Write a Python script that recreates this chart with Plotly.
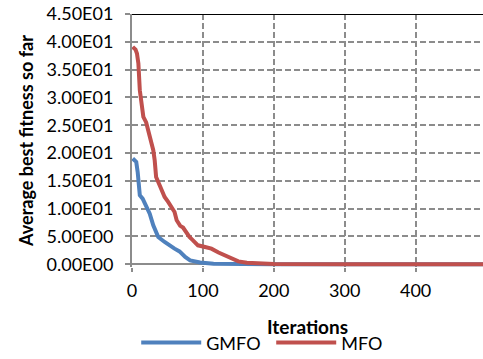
import plotly.graph_objects as go

# ---- data ----
gmfo_iter = [1, 6, 8, 10, 11, 15, 20, 25, 30, 37, 46, 55, 60, 67, 75, 82, 96, 115, 140, 200, 300, 400, 495]
gmfo_val = [19.0, 18.4, 16.6, 13.5, 12.4, 11.8, 10.6, 9.1, 7.0, 4.9, 4.0, 3.1, 2.8, 2.3, 1.3, 0.7, 0.3, 0.1, 0.03, 0.0, 0.0, 0.0, 0.0]

mfo_iter = [1, 5, 7, 9, 11, 13, 16, 20, 23, 27, 30, 32, 34, 39, 46, 51, 55, 60, 63, 68, 72, 77, 81, 86, 93,
            103, 112, 122, 131, 140, 150, 162, 180, 200, 300, 400, 495]
mfo_val = [39.1, 38.6, 37.9, 36.1, 31.3, 29.0, 26.5, 25.5, 24.1, 22.3, 20.5, 18.7, 15.7, 14.2, 12.1, 11.2, 10.3,
           9.4, 7.9, 6.9, 6.6, 5.5, 4.9, 4.3, 3.4, 3.1, 2.8, 2.1, 1.6, 1.0, 0.5, 0.25, 0.1, 0.03, 0.0, 0.0, 0.0]

y_tickvals = [0, 5, 10, 15, 20, 25, 30, 35, 40, 45]
y_ticktext = ["0.00E00", "5.00E00", "1.00E01", "1.50E01", "2.00E01", "2.50E01",
              "3.00E01", "3.50E01", "4.00E01", "4.50E01"]
x_tickvals = [0, 100, 200, 300, 400]

FONT = "Lato"
GRID = "#8c8c8c"

fig = go.Figure()
fig.add_trace(go.Scatter(x=gmfo_iter, y=gmfo_val, mode="lines", name="GMFO",
                         line=dict(color="#4F81BD", width=4)))
fig.add_trace(go.Scatter(x=mfo_iter, y=mfo_val, mode="lines", name="MFO",
                         line=dict(color="#C0504D", width=4)))

fig.update_layout(
    width=483, height=359,
    margin=dict(l=132, r=0, t=14, b=92, autoexpand=False),
    paper_bgcolor="white", plot_bgcolor="white",
    font=dict(family=FONT, size=18, color="black"),
    showlegend=True,
    legend=dict(orientation="h", x=0.012, xanchor="left", y=-0.30, yanchor="middle",
                font=dict(size=18), bgcolor="rgba(0,0,0,0)", itemwidth=60,
                entrywidth=60, entrywidthmode="pixels"),
    xaxis=dict(range=[0, 495], tickvals=x_tickvals, showgrid=True, gridcolor=GRID, gridwidth=1.5,
               griddash="6px,3px", showline=False, zeroline=False, automargin=False,
               ticks="outside", ticklen=4, tickwidth=2, tickcolor=GRID,
               ticklabelstandoff=3, tickfont=dict(size=18),
               title=dict(text="<b>Iterations</b>", font=dict(size=19), standoff=21)),
    yaxis=dict(range=[-0.5, 45], tickvals=y_tickvals, ticktext=y_ticktext, showgrid=True,
               gridcolor=GRID, gridwidth=1.5, griddash="6px,3px", automargin=False,
               showline=True, linecolor=GRID, linewidth=2,
               zeroline=True, zerolinecolor=GRID, zerolinewidth=2,
               ticks="outside", ticklen=5, tickwidth=2, tickcolor=GRID,
               ticklabelstandoff=8, tickfont=dict(size=18),
               title=dict(text="<b>Average best fitness so far</b>", font=dict(size=18), standoff=8)),
    shapes=[dict(type="line", xref="paper", yref="y", x0=0, x1=1, y0=45, y1=45,
                 line=dict(color="black", width=2))],
)

fig.write_html("out.html", config={"displayModeBar": False},
               post_script="document.body.style.margin='0';")
